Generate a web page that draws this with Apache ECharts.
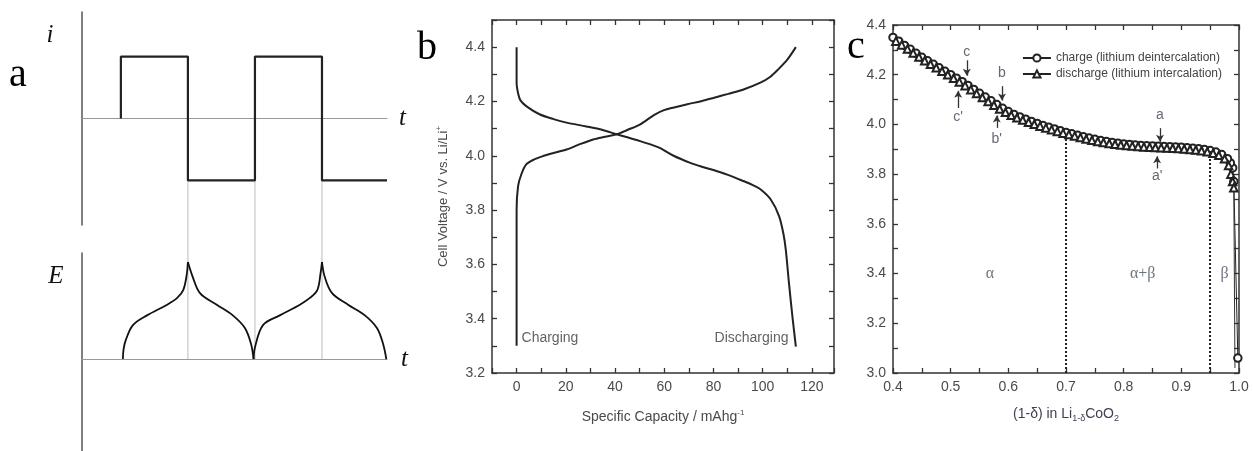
<!DOCTYPE html>
<html>
<head>
<meta charset="utf-8">
<script src="https://cdn.jsdelivr.net/npm/echarts@6/dist/echarts.min.js"></script>
<style>
html, body { margin: 0; padding: 0; background: #fff; }
#chart { width: 1253px; height: 451px; }
</style>
</head>
<body>
<div id="chart"></div>
<script>
// ---- panel a: current pulse i(t) and potential E(t) ----
const pulseI = [[1, 0], [1, 1], [2, 1], [2, -1], [3, -1], [3, 1], [4, 1], [4, -1], [4.97, -1]]
const riseE1 = [[1.03, 0], [1.04, 0.1], [1.075, 0.2], [1.18, 0.35], [1.39, 0.45], [1.69, 0.56], [1.84, 0.63], [1.93, 0.71], [1.98, 0.86], [2.0, 1.0]]
const fallE1 = [[2.0, 1.0], [2.07, 0.85], [2.18, 0.68], [2.43, 0.56], [2.67, 0.45], [2.85, 0.32], [2.94, 0.16], [2.98, 0]]
const riseE2 = [[2.98, 0], [3.0, 0.12], [3.12, 0.35], [3.37, 0.45], [3.67, 0.56], [3.82, 0.63], [3.93, 0.71], [3.98, 0.89], [4.0, 1.0]]
const fallE2 = [[4.0, 1.0], [4.04, 0.85], [4.15, 0.68], [4.39, 0.56], [4.64, 0.45], [4.82, 0.32], [4.91, 0.16], [4.96, 0]]
const connectorT = [2, 3, 4]
const connectorTopE = 1.835   // level of i = -1 expressed on the E scale

// ---- panel b: charge / discharge curves ----
const chargingB = [[0, 3.30], [0, 3.80], [0.6, 3.888], [1.9, 3.931], [3.9, 3.968], [7, 3.986], [10.8, 3.999], [15, 4.01], [20.3, 4.023],
  [25, 4.04], [31.1, 4.06], [36, 4.07], [40.7, 4.079], [45, 4.095], [50.3, 4.116], [55.8, 4.15], [59.9, 4.168], [64, 4.178],
  [69.4, 4.19], [75, 4.201], [80.3, 4.214], [86, 4.228], [92.5, 4.245], [99.3, 4.27], [103, 4.29], [106.1, 4.316], [110.1, 4.355], [113.5, 4.40]]
const dischargingB = [[0, 4.40], [0, 4.27], [0.6, 4.23], [1.5, 4.205], [3.9, 4.183], [9.3, 4.153], [15, 4.135], [20.3, 4.122],
  [28.4, 4.108], [35, 4.095], [40.7, 4.079], [45, 4.068], [50.2, 4.054], [55, 4.04], [58.4, 4.028], [63.8, 4.0], [70.6, 3.974],
  [76, 3.958], [81.5, 3.943], [87, 3.926], [92.4, 3.906], [96, 3.892], [99.2, 3.876], [103.3, 3.839], [106.7, 3.777],
  [108.5, 3.71], [109.4, 3.654], [110.7, 3.531], [112.1, 3.408], [113.5, 3.297]]
const textB = [{ value: [2, 3.33], name: 'Charging' }, { value: [110.5, 3.33], name: 'Discharging' }]

// ---- panel c: Li(1-d)CoO2 ----
const chargeC = [[0.998, 3.06], [0.991, 3.77], [0.989, 3.825], [0.985, 3.845], [0.98, 3.862], [0.97, 3.879], [0.96, 3.889], [0.95, 3.895],
  [0.94, 3.899], [0.93, 3.902], [0.92, 3.904], [0.91, 3.906], [0.90, 3.908], [0.89, 3.909], [0.88, 3.910], [0.87, 3.911],
  [0.86, 3.912], [0.85, 3.913], [0.84, 3.914], [0.83, 3.915], [0.82, 3.917], [0.81, 3.919], [0.80, 3.921], [0.79, 3.924],
  [0.78, 3.927], [0.77, 3.931], [0.76, 3.935], [0.75, 3.940], [0.74, 3.945], [0.73, 3.950], [0.72, 3.956], [0.71, 3.962],
  [0.70, 3.968], [0.69, 3.975], [0.68, 3.982], [0.67, 3.989], [0.66, 3.996], [0.65, 4.004], [0.64, 4.012], [0.63, 4.021],
  [0.62, 4.030], [0.61, 4.040], [0.60, 4.052], [0.59, 4.065], [0.58, 4.080], [0.57, 4.095], [0.56, 4.110], [0.55, 4.125],
  [0.54, 4.141], [0.53, 4.157], [0.52, 4.172], [0.51, 4.186], [0.50, 4.200], [0.49, 4.214], [0.48, 4.228], [0.47, 4.242],
  [0.46, 4.256], [0.45, 4.270], [0.44, 4.286], [0.43, 4.302], [0.42, 4.318], [0.41, 4.335], [0.40, 4.350]]
const dischargeC = [[0.405, 4.335], [0.415, 4.320], [0.425, 4.303], [0.435, 4.287], [0.445, 4.271], [0.455, 4.256], [0.465, 4.242],
  [0.475, 4.228], [0.485, 4.214], [0.495, 4.200], [0.505, 4.186], [0.515, 4.171], [0.525, 4.156], [0.535, 4.140], [0.545, 4.124],
  [0.555, 4.108], [0.565, 4.092], [0.575, 4.077], [0.585, 4.062], [0.595, 4.049], [0.605, 4.037], [0.615, 4.027], [0.625, 4.018],
  [0.635, 4.009], [0.645, 4.001], [0.655, 3.993], [0.665, 3.986], [0.675, 3.979], [0.685, 3.972], [0.695, 3.965], [0.705, 3.959],
  [0.715, 3.953], [0.725, 3.947], [0.735, 3.941], [0.745, 3.936], [0.755, 3.931], [0.765, 3.927], [0.775, 3.923], [0.785, 3.920],
  [0.795, 3.917], [0.805, 3.915], [0.815, 3.913], [0.825, 3.911], [0.835, 3.909], [0.845, 3.908], [0.855, 3.907], [0.865, 3.906],
  [0.875, 3.905], [0.885, 3.904], [0.895, 3.903], [0.905, 3.901], [0.915, 3.899], [0.925, 3.897], [0.935, 3.894], [0.945, 3.890],
  [0.955, 3.884], [0.965, 3.876], [0.975, 3.862], [0.982, 3.835], [0.986, 3.800], [0.989, 3.770], [0.991, 3.745]]
const dischargeTailC = [[0.991, 3.745], [0.993, 3.02]]
const pointLetters = ['c', "c'", 'b', "b'", 'a', "a'"]
const letterPos = [[0.528, 4.291], [0.513, 4.030], [0.589, 4.207], [0.580, 3.941], [0.863, 4.036], [0.858, 3.790]]
const arrowFrom = [[0.528, 4.258], [0.513, 4.066], [0.589, 4.154], [0.580, 3.986], [0.863, 3.985], [0.858, 3.823]]
const arrowTo = [[0.528, 4.196], [0.513, 4.135], [0.589, 4.096], [0.580, 4.036], [0.863, 3.930], [0.858, 3.872]]
const phaseNames = ['α', 'α+β', 'β']
const phasePos = [[0.568, 3.4], [0.833, 3.4], [0.975, 3.4]]
const phaseBounds = [[0.7, 3.966], [0.95, 3.893]]

const chart = echarts.init(document.getElementById('chart'))
const frame = '#333'
const sans = 'Liberation Sans'
const serif = 'Liberation Serif'

function boxAxis(grid, pos, min, max, step, labelVals, digits) {
  return {
    type: 'value', gridIndex: grid, position: pos, min: min, max: max, interval: step,
    axisLine: { show: true, onZero: false, lineStyle: { color: frame, width: 1.5 } },
    axisTick: { show: true, inside: true, length: 5, lineStyle: { color: frame, width: 1.3 } },
    axisLabel: labelVals ? {
      show: true, customValues: labelVals, formatter: v => Number(v).toFixed(digits),
      color: '#4a4a4a', fontSize: 14, fontFamily: sans, margin: 7
    } : { show: false },
    splitLine: { show: false }
  }
}

function sketchAxis(grid, min, max, color, width, name, nameGap) {
  return {
    type: 'value', gridIndex: grid, min: min, max: max,
    axisLine: { show: true, lineStyle: { color: color, width: width } },
    axisTick: { show: false }, axisLabel: { show: false }, splitLine: { show: false },
    name: name || '', nameLocation: 'end', nameGap: nameGap || 0,
    nameTextStyle: { fontFamily: serif, fontStyle: 'italic', fontSize: 25, color: '#111', padding: [10, 0, 0, 0] }
  }
}

const seriesList = []

// panel a
seriesList.push({ type: 'line', xAxisIndex: 0, yAxisIndex: 0, data: pulseI, symbol: 'none', lineStyle: { color: '#222', width: 2.2 } })
connectorT.forEach(t => seriesList.push({
  type: 'line', xAxisIndex: 1, yAxisIndex: 1, clip: false, symbol: 'none', z: 1,
  data: [[t, 0], [t, connectorTopE]], lineStyle: { color: '#bbb', width: 1 }
}))
;[riseE1, fallE1, riseE2, fallE2].forEach(arc => seriesList.push({
  type: 'line', xAxisIndex: 1, yAxisIndex: 1, data: arc, symbol: 'none', smooth: 0.35,
  lineStyle: { color: '#111', width: 1.8 }
}))

// panel b
;[chargingB, dischargingB].forEach(c => seriesList.push({
  type: 'line', xAxisIndex: 2, yAxisIndex: 2, data: c, symbol: 'none', smooth: 0.3,
  lineStyle: { color: '#222', width: 2 }
}))
seriesList.push({
  type: 'scatter', xAxisIndex: 2, yAxisIndex: 2, symbolSize: 0,
  data: textB.map((d, i) => ({
    value: d.value, name: d.name,
    label: { show: true, formatter: '{b}', position: i === 0 ? 'right' : 'left', distance: 0, color: '#3a3a3a', fontSize: 14, fontFamily: sans }
  }))
})

// panel c
seriesList.push({
  name: 'charge (lithium deintercalation)', type: 'line', xAxisIndex: 4, yAxisIndex: 4, data: chargeC,
  symbol: 'emptyCircle', symbolSize: 7.5, showAllSymbol: true,
  itemStyle: { color: '#222', borderWidth: 1.3 }, lineStyle: { color: '#222', width: 1 }
})
seriesList.push({
  name: 'discharge (lithium intercalation)', type: 'line', xAxisIndex: 4, yAxisIndex: 4, data: dischargeC,
  symbol: 'emptyTriangle', symbolSize: 7.5, showAllSymbol: true,
  itemStyle: { color: '#222', borderWidth: 1.3 }, lineStyle: { color: '#222', width: 1 }
})
seriesList.push({
  type: 'line', xAxisIndex: 4, yAxisIndex: 4, data: dischargeTailC, symbol: 'none',
  lineStyle: { color: '#333', width: 1 }
})
seriesList.push({
  type: 'scatter', xAxisIndex: 4, yAxisIndex: 4, symbolSize: 0,
  data: pointLetters.map((s, i) => ({ value: letterPos[i], name: s })),
  label: { show: true, position: 'inside', formatter: '{b}', color: '#3d4250', fontSize: 14, fontFamily: sans },
  markLine: {
    silent: true, symbol: ['none', 'arrow'], symbolSize: [6, 7], label: { show: false },
    lineStyle: { color: '#333', width: 1.3, type: 'solid' },
    data: arrowFrom.map((p, i) => [{ coord: p }, { coord: arrowTo[i] }])
  }
})
seriesList.push({
  type: 'scatter', xAxisIndex: 4, yAxisIndex: 4, symbolSize: 0,
  data: phaseNames.map((s, i) => ({ value: phasePos[i], name: s })),
  label: { show: true, position: 'inside', formatter: '{b}', color: '#4a5060', fontSize: 16, fontFamily: serif },
  markLine: {
    silent: true, symbol: 'none', label: { show: false },
    lineStyle: { color: '#222', width: 2, type: 'dotted' },
    data: phaseBounds.map(p => [{ coord: [p[0], 3.0] }, { coord: p }])
  }
})

const option = {
  animation: false,
  backgroundColor: '#fff',
  grid: [
    { left: 82, top: 12, width: 305, height: 213, outerBoundsMode: 'none' },
    { left: 82, top: 253, width: 305, height: 198, outerBoundsMode: 'none' },
    { left: 492, top: 20, right: 419, bottom: 78, outerBoundsMode: 'none' },
    { left: 893, top: 25, right: 14, bottom: 78, outerBoundsMode: 'none' }
  ],
  xAxis: [
    sketchAxis(0, 0.42, 4.97, '#999', 1.2, 't', 12),
    sketchAxis(1, 0.42, 4.97, '#999', 1.2, 't', 14),
    Object.assign(boxAxis(2, 'bottom', -10, 129, 10, [0, 20, 40, 60, 80, 100, 120], 0), {
      name: 'Specific Capacity / mAhg{p|-1}', nameLocation: 'middle', nameGap: 36,
      nameTextStyle: { color: '#4a4a4a', fontSize: 14, fontFamily: sans, rich: { p: { fontSize: 8, padding: [0, 0, 9, 0] } } }
    }),
    boxAxis(2, 'top', -10, 129, 10, null),
    Object.assign(boxAxis(3, 'bottom', 0.4, 1.0, 0.05, [0.4, 0.5, 0.6, 0.7, 0.8, 0.9, 1.0], 1), {
      name: '(1-δ) in Li{s|1-δ}CoO{s|2}', nameLocation: 'middle', nameGap: 32,
      nameTextStyle: { color: '#3d4250', fontSize: 14, fontFamily: sans, rich: { s: { fontSize: 9, padding: [9, 0, 0, 0] } } }
    }),
    boxAxis(3, 'top', 0.4, 1.0, 0.05, null)
  ],
  yAxis: [
    sketchAxis(0, -1.72, 1.72, '#555', 1.5),
    sketchAxis(1, -0.948, 1.093, '#555', 1.5),
    Object.assign(boxAxis(2, 'left', 3.2, 4.5, 0.1, [3.2, 3.4, 3.6, 3.8, 4.0, 4.2, 4.4], 1), {
      name: 'Cell Voltage / V vs. Li/Li{p|+}', nameLocation: 'middle', nameGap: 41,
      nameTextStyle: { color: '#4a4a4a', fontSize: 13, fontFamily: sans, rich: { p: { fontSize: 8, padding: [0, 0, 8, 0] } } }
    }),
    boxAxis(2, 'right', 3.2, 4.5, 0.1, null),
    boxAxis(3, 'left', 3.0, 4.4, 0.1, [3.0, 3.2, 3.4, 3.6, 3.8, 4.0, 4.2, 4.4], 1),
    boxAxis(3, 'right', 3.0, 4.4, 0.1, null)
  ],
  legend: {
    data: ['charge (lithium deintercalation)', 'discharge (lithium intercalation)'],
    orient: 'vertical', right: 26, top: 47, itemWidth: 28, itemHeight: 9, itemGap: 4, selectedMode: false,
    textStyle: { fontSize: 12, color: '#444', fontFamily: sans }
  },
  graphic: [
    { type: 'text', x: 18, y: 75, style: { text: 'a', font: '40px "Liberation Serif"', fill: '#000', align: 'center', verticalAlign: 'middle' } },
    { type: 'text', x: 427, y: 48, style: { text: 'b', font: '40px "Liberation Serif"', fill: '#000', align: 'center', verticalAlign: 'middle' } },
    { type: 'text', x: 856, y: 47, style: { text: 'c', font: '40px "Liberation Serif"', fill: '#000', align: 'center', verticalAlign: 'middle' } },
    { type: 'text', x: 50, y: 35, style: { text: 'i', font: 'italic 25px "Liberation Serif"', fill: '#111', align: 'center', verticalAlign: 'middle' } },
    { type: 'text', x: 56, y: 276, style: { text: 'E', font: 'italic 25px "Liberation Serif"', fill: '#111', align: 'center', verticalAlign: 'middle' } }
  ],
  series: seriesList
}

chart.setOption(option)
</script>
</body>
</html>
